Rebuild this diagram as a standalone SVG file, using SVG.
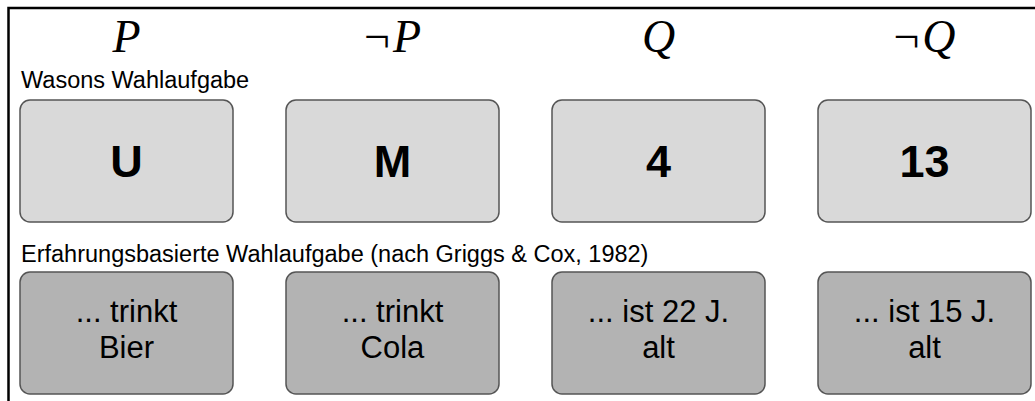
<svg xmlns="http://www.w3.org/2000/svg" width="1035" height="401" viewBox="0 0 1035 401">
<style>
.frame{fill:none;stroke:#000;stroke-width:2.5}
.b1{fill:#d9d9d9;stroke:#555;stroke-width:1.5}
.b2{fill:#b3b3b3;stroke:#555;stroke-width:1.5}
.math{font-family:"Liberation Serif","DejaVu Serif",serif;font-size:46px;fill:#000;text-anchor:middle}
.it{font-style:italic}
.lbl{font-family:"Liberation Sans",Arial,sans-serif;font-size:23.5px;fill:#000}
.big{font-family:"Liberation Sans",Arial,sans-serif;font-size:45px;font-weight:bold;fill:#000;text-anchor:middle}
.txt{font-family:"Liberation Sans",Arial,sans-serif;font-size:31px;fill:#000;text-anchor:middle}
</style>
<rect x="0" y="0" width="1035" height="401" fill="#fff"/>
<rect class="frame" x="8.5" y="8" width="1100" height="500"/>
<g id="headers">
<text class="math" x="126.5" y="52"><tspan class="it">P</tspan></text>
<text class="math" x="392.5" y="52">¬<tspan class="it" dx="3">P</tspan></text>
<text class="math" x="658.5" y="52"><tspan class="it">Q</tspan></text>
<text class="math" x="924.5" y="52">¬<tspan class="it" dx="3">Q</tspan></text>
</g>
<text class="lbl" x="21" y="88">Wasons Wahlaufgabe</text>
<text class="lbl" x="21" y="262">Erfahrungsbasierte Wahlaufgabe (nach Griggs &amp; Cox, 1982)</text>
<g id="card-U"><rect class="b1" x="20" y="100" width="213" height="122" rx="10"/><text class="big" x="126.5" y="177">U</text></g>
<g id="card-M"><rect class="b1" x="286" y="100" width="213" height="122" rx="10"/><text class="big" x="392.5" y="177">M</text></g>
<g id="card-4"><rect class="b1" x="552" y="100" width="213" height="122" rx="10"/><text class="big" x="658.5" y="177">4</text></g>
<g id="card-13"><rect class="b1" x="818" y="100" width="213" height="122" rx="10"/><text class="big" x="924.5" y="177">13</text></g>
<g id="card-bier"><rect class="b2" x="20" y="272" width="213" height="122" rx="10"/><text class="txt" x="126.5" y="322">... trinkt</text><text class="txt" x="126.5" y="358">Bier</text></g>
<g id="card-cola"><rect class="b2" x="286" y="272" width="213" height="122" rx="10"/><text class="txt" x="392.5" y="322">... trinkt</text><text class="txt" x="392.5" y="358">Cola</text></g>
<g id="card-22"><rect class="b2" x="552" y="272" width="213" height="122" rx="10"/><text class="txt" x="658.5" y="322">... ist 22 J.</text><text class="txt" x="658.5" y="358">alt</text></g>
<g id="card-15"><rect class="b2" x="818" y="272" width="213" height="122" rx="10"/><text class="txt" x="924.5" y="322">... ist 15 J.</text><text class="txt" x="924.5" y="358">alt</text></g>
<g id="connectors"></g>
</svg>
